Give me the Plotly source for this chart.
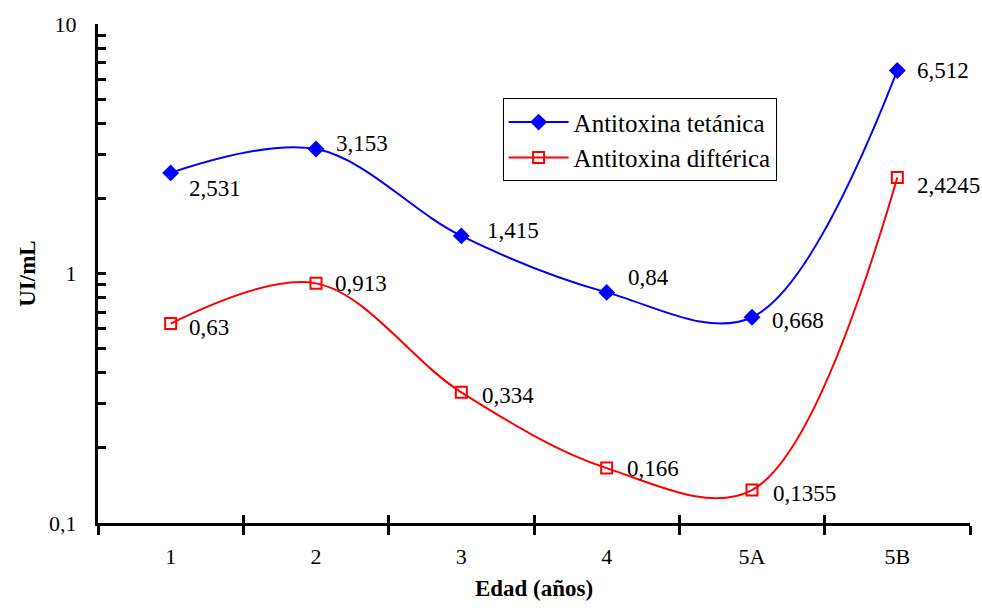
import math
import plotly.graph_objects as go

categories = ["1", "2", "3", "4", "5A", "5B"]
tetanica = [2.531, 3.153, 1.415, 0.84, 0.668, 6.512]
difterica = [0.63, 0.913, 0.334, 0.166, 0.1355, 2.4245]
series_names = ["Antitoxina tetánica", "Antitoxina diftérica"]

FONT = "Liberation Serif, Times New Roman, serif"

fig = go.Figure()
fig.add_trace(go.Scatter(
    x=categories, y=tetanica, name=series_names[0], mode="lines+markers",
    line=dict(color="#0000FF", width=2, shape="spline", smoothing=1.0),
    marker=dict(symbol="diamond", size=13, color="#0000FF"),
))
fig.add_trace(go.Scatter(
    x=categories, y=difterica, name=series_names[1], mode="lines+markers",
    line=dict(color="#FF0000", width=2, shape="spline", smoothing=1.0),
    marker=dict(symbol="square-open", size=11, color="#FF0000", line=dict(width=2, color="#FF0000")),
))
# invisible trace to anchor the overlay axis (cross ticks)
fig.add_trace(go.Scatter(x=categories, y=tetanica, xaxis="x2", mode="markers",
                         marker=dict(opacity=0), showlegend=False, hoverinfo="skip"))

def fmt(v):
    return str(v).replace(".", ",")

off_t = [(16, -16), (18, 6), (24, 5), (19, 15), (18, -3), (18, 0)]
off_d = [(16, -4), (17, 0), (19, -3), (18, 0), (19, -3), (18, -8)]
for vals, offs in ((tetanica, off_t), (difterica, off_d)):
    for i, (v, (dx, dy)) in enumerate(zip(vals, offs)):
        fig.add_annotation(x=i, xref="x", y=math.log10(v), yref="y", text=fmt(v), showarrow=False,
                           xanchor="left", yanchor="middle", xshift=dx, yshift=dy,
                           font=dict(family=FONT, size=23, color="black"))

ytickvals = [0.1, 0.2, 0.3, 0.4, 0.5, 0.6, 0.7, 0.8, 0.9,
             1, 2, 3, 4, 5, 6, 7, 8, 9, 10]
yticktext = ["0,1" if v == 0.1 else ("1" if v == 1 else ("10" if v == 10 else "")) for v in ytickvals]

fig.update_layout(
    width=982, height=610,
    margin=dict(l=98, r=12, t=22, b=84),
    paper_bgcolor="white", plot_bgcolor="white",
    font=dict(family=FONT, size=22, color="black"),
    showlegend=True,
    legend=dict(x=0.464, y=0.851, xanchor="left", yanchor="top",
                bordercolor="black", borderwidth=1, bgcolor="white",
                font=dict(family=FONT, size=25), tracegroupgap=0,
                itemwidth=60),
    xaxis=dict(type="category", categoryorder="array", categoryarray=categories,
               range=[-0.5, 5.5], showline=True, linecolor="black", linewidth=3,
               ticks="outside", tickson="boundaries", ticklen=9, tickwidth=3,
               tickcolor="black", showgrid=False, zeroline=False,
               ticklabelstandoff=12,
               tickfont=dict(family=FONT, size=22),
               title=dict(text="<b>Edad (años)</b>", font=dict(family=FONT, size=23), standoff=12)),
    xaxis2=dict(type="category", categoryorder="array", categoryarray=categories,
                range=[-0.5, 5.5], overlaying="x", anchor="y", side="bottom",
                ticks="inside", tickson="boundaries", ticklen=8, tickwidth=3,
                tickcolor="black", showticklabels=False, showgrid=False,
                showline=False, zeroline=False),
    yaxis=dict(type="log", range=[-1, 1], showline=True, linecolor="black", linewidth=3,
               tickvals=ytickvals, ticktext=yticktext, ticks="inside", ticklen=8,
               tickwidth=3, tickcolor="black", showgrid=False, zeroline=False,
               ticklabelstandoff=14,
               tickfont=dict(family=FONT, size=22),
               title=dict(text="<b>UI/mL</b>", font=dict(family=FONT, size=23), standoff=8)),
)

fig.write_html("out.html")
